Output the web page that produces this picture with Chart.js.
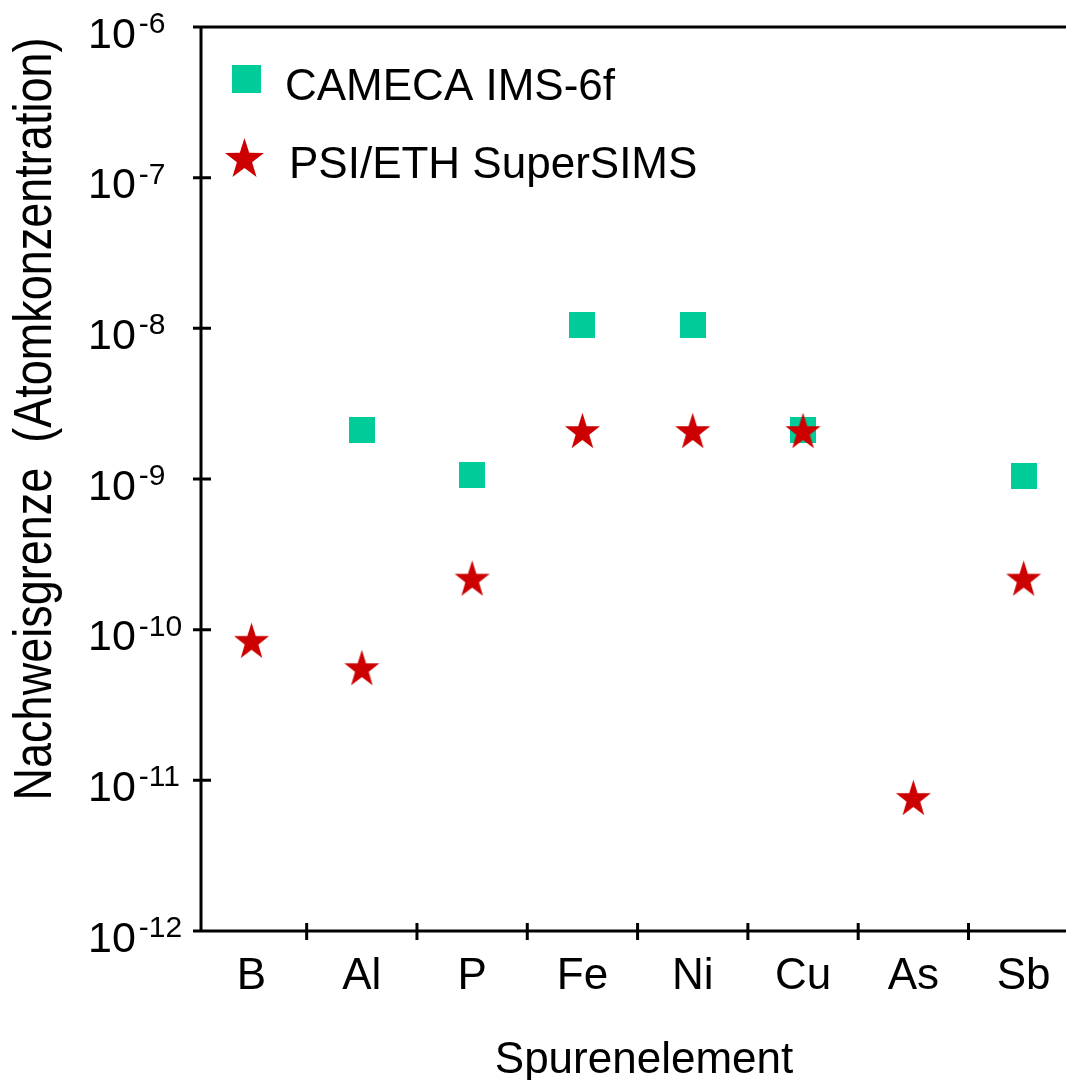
<!DOCTYPE html>
<html>
<head>
<meta charset="utf-8">
<script src="https://cdn.jsdelivr.net/npm/chart.js@4.4.0/dist/chart.umd.min.js"></script>
<style>
  body { margin: 0; background: #fff; }
  #wrap { width: 1066px; height: 1080px; }
</style>
</head>
<body>
<div id="wrap"><canvas id="chart" width="1066" height="1080"></canvas></div>
<script>
// Spurenelemente und Nachweisgrenzen (Atomkonzentration)
const categories = ['B', 'Al', 'P', 'Fe', 'Ni', 'Cu', 'As', 'Sb'];
const cameca = [null, 2.1e-9, 1.06e-9, 1.05e-8, 1.05e-8, 2.1e-9, null, 1.05e-9];
const superSims = [8.5e-11, 5.6e-11, 2.2e-10, 2.1e-9, 2.1e-9, 2.1e-9, 7.7e-12, 2.2e-10];
const yTickExps = [-6, -7, -8, -9, -10, -11, -12];

const seriesNames = ['CAMECA IMS-6f', 'PSI/ETH SuperSIMS'];
const green = 'rgb(0,204,153)';
const red = 'rgb(204,0,0)';
const FONT = '"Liberation Sans", Arial, sans-serif';

function squareImg(side, color) {
  const c = document.createElement('canvas');
  c.width = side; c.height = side;
  const g = c.getContext('2d');
  g.fillStyle = color;
  g.fillRect(0, 0, side, side);
  return c;
}

function drawStar(g, cx, cy, R, color, sy) {
  // 5-zackiger Stern, auf Bounding-Box zentriert
  const r = R * 0.39;
  const off = (R - R * Math.cos(Math.PI / 5)) / 2;
  g.save();
  g.translate(cx, cy);
  g.scale(1, sy);
  g.translate(0, off);
  g.beginPath();
  for (let i = 0; i < 10; i++) {
    const rad = i % 2 === 0 ? R : r;
    const a = -Math.PI / 2 + i * Math.PI / 5;
    const px = rad * Math.cos(a), py = rad * Math.sin(a);
    if (i === 0) g.moveTo(px, py); else g.lineTo(px, py);
  }
  g.closePath();
  g.fillStyle = color;
  g.fill();
  g.restore();
}

function starImg(R, color) {
  const s = Math.ceil(R * 2 + 4);
  const c = document.createElement('canvas');
  c.width = s; c.height = s;
  drawStar(c.getContext('2d'), s / 2, s / 2, R, color, 1.07);
  return c;
}

const toPoints = arr => arr
  .map((v, i) => (v == null ? null : { x: i + 0.5, y: v }))
  .filter(p => p);

const decor = {
  id: 'decor',
  afterDraw(chart) {
    const { ctx, chartArea: a, scales: { x, y } } = chart;
    const right = chart.width;
    ctx.save();
    ctx.strokeStyle = '#000';
    ctx.lineWidth = 3;
    ctx.lineCap = 'butt';
    ctx.beginPath();
    // Rahmen: links, unten, oben
    ctx.moveTo(a.left, a.top); ctx.lineTo(a.left, a.bottom);
    ctx.moveTo(a.left, a.bottom); ctx.lineTo(right, a.bottom);
    ctx.moveTo(a.left, a.top); ctx.lineTo(right, a.top);
    // y ticks
    yTickExps.forEach(e => {
      const py = y.getPixelForValue(Math.pow(10, e));
      ctx.moveTo(a.left - 8, py); ctx.lineTo(a.left + 10, py);
    });
    // x ticks zwischen den Kategorien
    for (let k = 1; k < categories.length; k++) {
      const px = x.getPixelForValue(k);
      ctx.moveTo(px, a.bottom - 8); ctx.lineTo(px, a.bottom + 9);
    }
    ctx.stroke();

    ctx.fillStyle = '#000';
    ctx.textAlign = 'left';
    ctx.textBaseline = 'alphabetic';
    // y tick labels 10^n
    yTickExps.forEach(e => {
      const py = y.getPixelForValue(Math.pow(10, e));
      ctx.font = '43px ' + FONT;
      ctx.fillText('10', 88, py + 20.5);
      const w = ctx.measureText('10').width;
      ctx.font = '30px ' + FONT;
      ctx.fillText(String(e), 88 + w + 3, py + 6);
    });
    // Kategorien
    ctx.font = '44px ' + FONT;
    ctx.textAlign = 'center';
    categories.forEach((c, i) => {
      ctx.fillText(c, x.getPixelForValue(i + 0.5), 989);
    });
    // x Titel
    ctx.fillText('Spurenelement', 644, 1073);
    // y Titel
    ctx.save();
    ctx.translate(51, 419);
    ctx.rotate(-Math.PI / 2);
    ctx.scale(1, 1.2);
    ctx.font = '45px ' + FONT;
    ctx.fillText('Nachweisgrenze  (Atomkonzentration)', 0, 0);
    ctx.restore();

    // Legende
    ctx.fillStyle = green;
    ctx.fillRect(232, 65, 29, 28);
    drawStar(ctx, 244.5, 157.5, 20.5, red, 1.05);
    ctx.fillStyle = '#000';
    ctx.textAlign = 'left';
    ctx.font = '44px ' + FONT;
    ctx.fillText(seriesNames[0], 285, 100);
    ctx.fillText(seriesNames[1], 289, 178);
    ctx.restore();
  }
};

new Chart(document.getElementById('chart').getContext('2d'), {
  type: 'scatter',
  data: {
    datasets: [
      {
        label: seriesNames[0],
        data: toPoints(cameca),
        pointStyle: squareImg(26, green),
        order: 2
      },
      {
        label: seriesNames[1],
        data: toPoints(superSims),
        pointStyle: starImg(18.4, red),
        order: 1
      }
    ]
  },
  options: {
    responsive: false,
    animation: false,
    events: [],
    layout: { autoPadding: false, padding: { top: 27, left: 0, right: 0, bottom: 0 } },
    plugins: { legend: { display: false }, tooltip: { enabled: false } },
    scales: {
      x: {
        type: 'linear',
        min: 0.042,
        max: 7.884,
        grid: { display: false },
        border: { display: false },
        ticks: { display: false },
        afterFit: s => { s.height = 149; }
      },
      y: {
        type: 'logarithmic',
        min: 1e-12,
        max: 1e-6,
        grid: { display: false },
        border: { display: false },
        ticks: { display: false },
        afterFit: s => { s.width = 201; }
      }
    }
  },
  plugins: [decor]
});
</script>
</body>
</html>
